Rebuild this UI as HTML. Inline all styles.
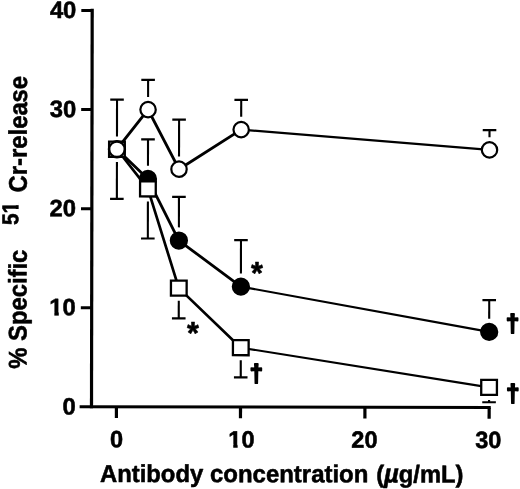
<!DOCTYPE html>
<html lang="en"><head><meta charset="utf-8"><title>Antibody concentration vs specific 51Cr-release</title>
<style>html,body{margin:0;padding:0;background:#fff}body{width:520px;height:489px;overflow:hidden}svg{display:block}text{font-family:"Liberation Sans",Arial,Helvetica,sans-serif;font-weight:bold;fill:#000;stroke:#000;stroke-width:0.55px;stroke-linejoin:round}</style></head><body>
<svg width="520" height="489" viewBox="0 0 520 489">
<rect width="520" height="489" fill="#fff"/>
<g transform="rotate(0.1 290 208)">
<g fill="#000">
<rect x="90.25" y="9.1" width="3.2" height="399.5"/>
<rect x="80" y="405.6" width="411.1" height="3"/>
<rect x="81" y="306.62" width="11" height="3"/>
<rect x="81" y="207.50" width="11" height="3"/>
<rect x="81" y="108.38" width="11" height="3"/>
<rect x="81" y="9.25" width="11" height="3"/>
<rect x="115.16" y="407.5" width="3.2" height="10.8"/>
<rect x="239.26" y="407.5" width="3.2" height="10.8"/>
<rect x="363.66" y="407.5" width="3.2" height="10.8"/>
<rect x="487.90" y="407.5" width="3.2" height="10.8"/>
</g>
<g fill="#000">
<rect x="110.05" y="98.86" width="13.6" height="2.2"/><rect x="115.80" y="99.96" width="2.1" height="36.82"/>
<rect x="110.05" y="197.99" width="13.6" height="2.2"/><rect x="115.80" y="162.28" width="2.1" height="36.81"/>
<rect x="141.09" y="79.04" width="13.6" height="2.2"/><rect x="146.84" y="80.14" width="2.1" height="16.99"/>
<rect x="172.14" y="118.69" width="13.6" height="2.2"/><rect x="177.89" y="119.79" width="2.1" height="36.81"/>
<rect x="234.23" y="98.86" width="13.6" height="2.2"/><rect x="239.98" y="99.96" width="2.1" height="16.99"/>
<rect x="482.59" y="128.60" width="13.6" height="2.2"/><rect x="488.34" y="129.70" width="2.1" height="7.08"/>
<rect x="141.09" y="138.51" width="13.6" height="2.2"/><rect x="146.84" y="139.61" width="2.1" height="26.50"/>
<rect x="172.14" y="196.01" width="13.6" height="2.2"/><rect x="177.89" y="197.11" width="2.1" height="30.46"/>
<rect x="234.23" y="239.12" width="13.6" height="2.2"/><rect x="239.98" y="240.22" width="2.1" height="33.34"/>
<rect x="482.59" y="298.70" width="13.6" height="2.2"/><rect x="488.34" y="299.80" width="2.1" height="18.57"/>
<rect x="141.09" y="237.64" width="13.6" height="2.2"/><rect x="146.84" y="201.78" width="2.1" height="36.96"/>
<rect x="172.14" y="317.43" width="13.6" height="2.2"/><rect x="177.89" y="300.90" width="2.1" height="17.63"/>
<rect x="234.23" y="376.41" width="13.6" height="2.2"/><rect x="239.98" y="360.37" width="2.1" height="17.14"/>
<rect x="482.59" y="400.80" width="13.6" height="2.2"/><rect x="488.34" y="399.63" width="2.1" height="2.27"/>
</g>
<polyline points="116.85,149.53 147.89,179.26 178.94,240.72 241.03,286.71" fill="none" stroke="#000" stroke-width="2.8" stroke-linejoin="round"/><polyline points="241.03,286.71 489.39,331.52" fill="none" stroke="#000" stroke-width="2.1"/>
<circle cx="116.85" cy="149.53" r="9.15" fill="#000"/>
<circle cx="147.89" cy="179.26" r="9.15" fill="#000"/>
<circle cx="178.94" cy="240.72" r="9.15" fill="#000"/>
<circle cx="241.03" cy="286.71" r="9.15" fill="#000"/>
<circle cx="489.39" cy="331.52" r="9.15" fill="#000"/>
<polyline points="116.85,149.53 147.89,189.18 178.94,288.3 241.03,347.77" fill="none" stroke="#000" stroke-width="2.7" stroke-linejoin="round"/><polyline points="241.03,347.77 489.39,387.03" fill="none" stroke="#000" stroke-width="2.1"/>
<rect x="109.00" y="141.98" width="15.7" height="15.1" fill="#fff" stroke="#000" stroke-width="2.3"/>
<rect x="140.04" y="181.63" width="15.7" height="15.1" fill="#fff" stroke="#000" stroke-width="2.3"/>
<rect x="171.09" y="280.75" width="15.7" height="15.1" fill="#fff" stroke="#000" stroke-width="2.3"/>
<rect x="233.18" y="340.22" width="15.7" height="15.1" fill="#fff" stroke="#000" stroke-width="2.3"/>
<rect x="481.54" y="379.48" width="15.7" height="15.1" fill="#fff" stroke="#000" stroke-width="2.3"/>
<polyline points="116.85,149.53 147.89,109.88 178.94,169.35 241.03,129.7" fill="none" stroke="#000" stroke-width="2.9" stroke-linejoin="round"/><polyline points="241.03,129.7 489.39,149.53" fill="none" stroke="#000" stroke-width="2.1"/>
<circle cx="116.85" cy="149.53" r="7.7" fill="#fff" stroke="#000" stroke-width="2.2"/>
<circle cx="147.89" cy="109.88" r="7.7" fill="#fff" stroke="#000" stroke-width="2.2"/>
<circle cx="178.94" cy="169.35" r="7.7" fill="#fff" stroke="#000" stroke-width="2.2"/>
<circle cx="241.03" cy="129.7" r="7.7" fill="#fff" stroke="#000" stroke-width="2.2"/>
<circle cx="489.39" cy="149.53" r="7.7" fill="#fff" stroke="#000" stroke-width="2.2"/>
</g>
<g transform="rotate(0.1 92 406.5)">
<text x="75.7" y="414.55" font-size="23.8" text-anchor="end">0</text>
<text x="75.7" y="315.43" font-size="23.8" text-anchor="end">10</text>
<text x="75.7" y="216.31" font-size="23.8" text-anchor="end">20</text>
<text x="75.7" y="117.19" font-size="23.8" text-anchor="end">30</text>
<text x="75.7" y="18.07" font-size="23.8" text-anchor="end">40</text>
<text x="116.5" y="447.3" font-size="23.5" text-anchor="middle">0</text>
<text x="241.5" y="447.3" font-size="23.5" text-anchor="middle">10</text>
<text x="364.5" y="447.3" font-size="23.5" text-anchor="middle">20</text>
<text x="488.3" y="447.3" font-size="23.5" text-anchor="middle">30</text>
<text x="100.2" y="481.9" font-size="24.5" textLength="103.1" lengthAdjust="spacingAndGlyphs">Antibody</text>
<text x="210.2" y="481.9" font-size="24.5" textLength="158.3" lengthAdjust="spacingAndGlyphs">concentration</text>
<text x="376.3" y="481.9" font-size="24.5" textLength="87.3" lengthAdjust="spacingAndGlyphs">(<tspan font-style="italic" font-size="26.5">µ</tspan>g/mL)</text>
<g transform="rotate(-90)">
<text x="-368.8" y="26.4" font-size="25.5" textLength="119" lengthAdjust="spacingAndGlyphs">% Specific</text>
<text x="-225.2" y="17.9" font-size="23" textLength="23.3" lengthAdjust="spacingAndGlyphs">51</text>
<text x="-192.5" y="26.4" font-size="25.5" textLength="116.5" lengthAdjust="spacingAndGlyphs">Cr-release</text>
</g>
</g>
<text x="256.85" y="284.1" font-size="30.5" text-anchor="middle">*</text>
<text x="192.85" y="343.5" font-size="30.5" text-anchor="middle">*</text>
<text x="256.4" y="381.9" font-size="23.6" text-anchor="middle" style="stroke-width:1.8px">†</text>
<text x="512.6" y="332.1" font-size="23.6" text-anchor="middle" style="stroke-width:1.8px">†</text>
<text x="512.8" y="402.2" font-size="23.6" text-anchor="middle" style="stroke-width:1.8px">†</text>
<g fill="#fff">
<rect x="49.8" y="311.95" width="4.55" height="4.5"/><rect x="58.78" y="311.95" width="4.1" height="4.5"/>
<rect x="228.8" y="443.95" width="4.45" height="4.5"/><rect x="237.65" y="443.95" width="4.1" height="4.5"/>
<rect x="14.95" y="201.4" width="4" height="3.75"/><rect x="14.95" y="209" width="4" height="4.1"/>
</g>
</svg></body></html>
